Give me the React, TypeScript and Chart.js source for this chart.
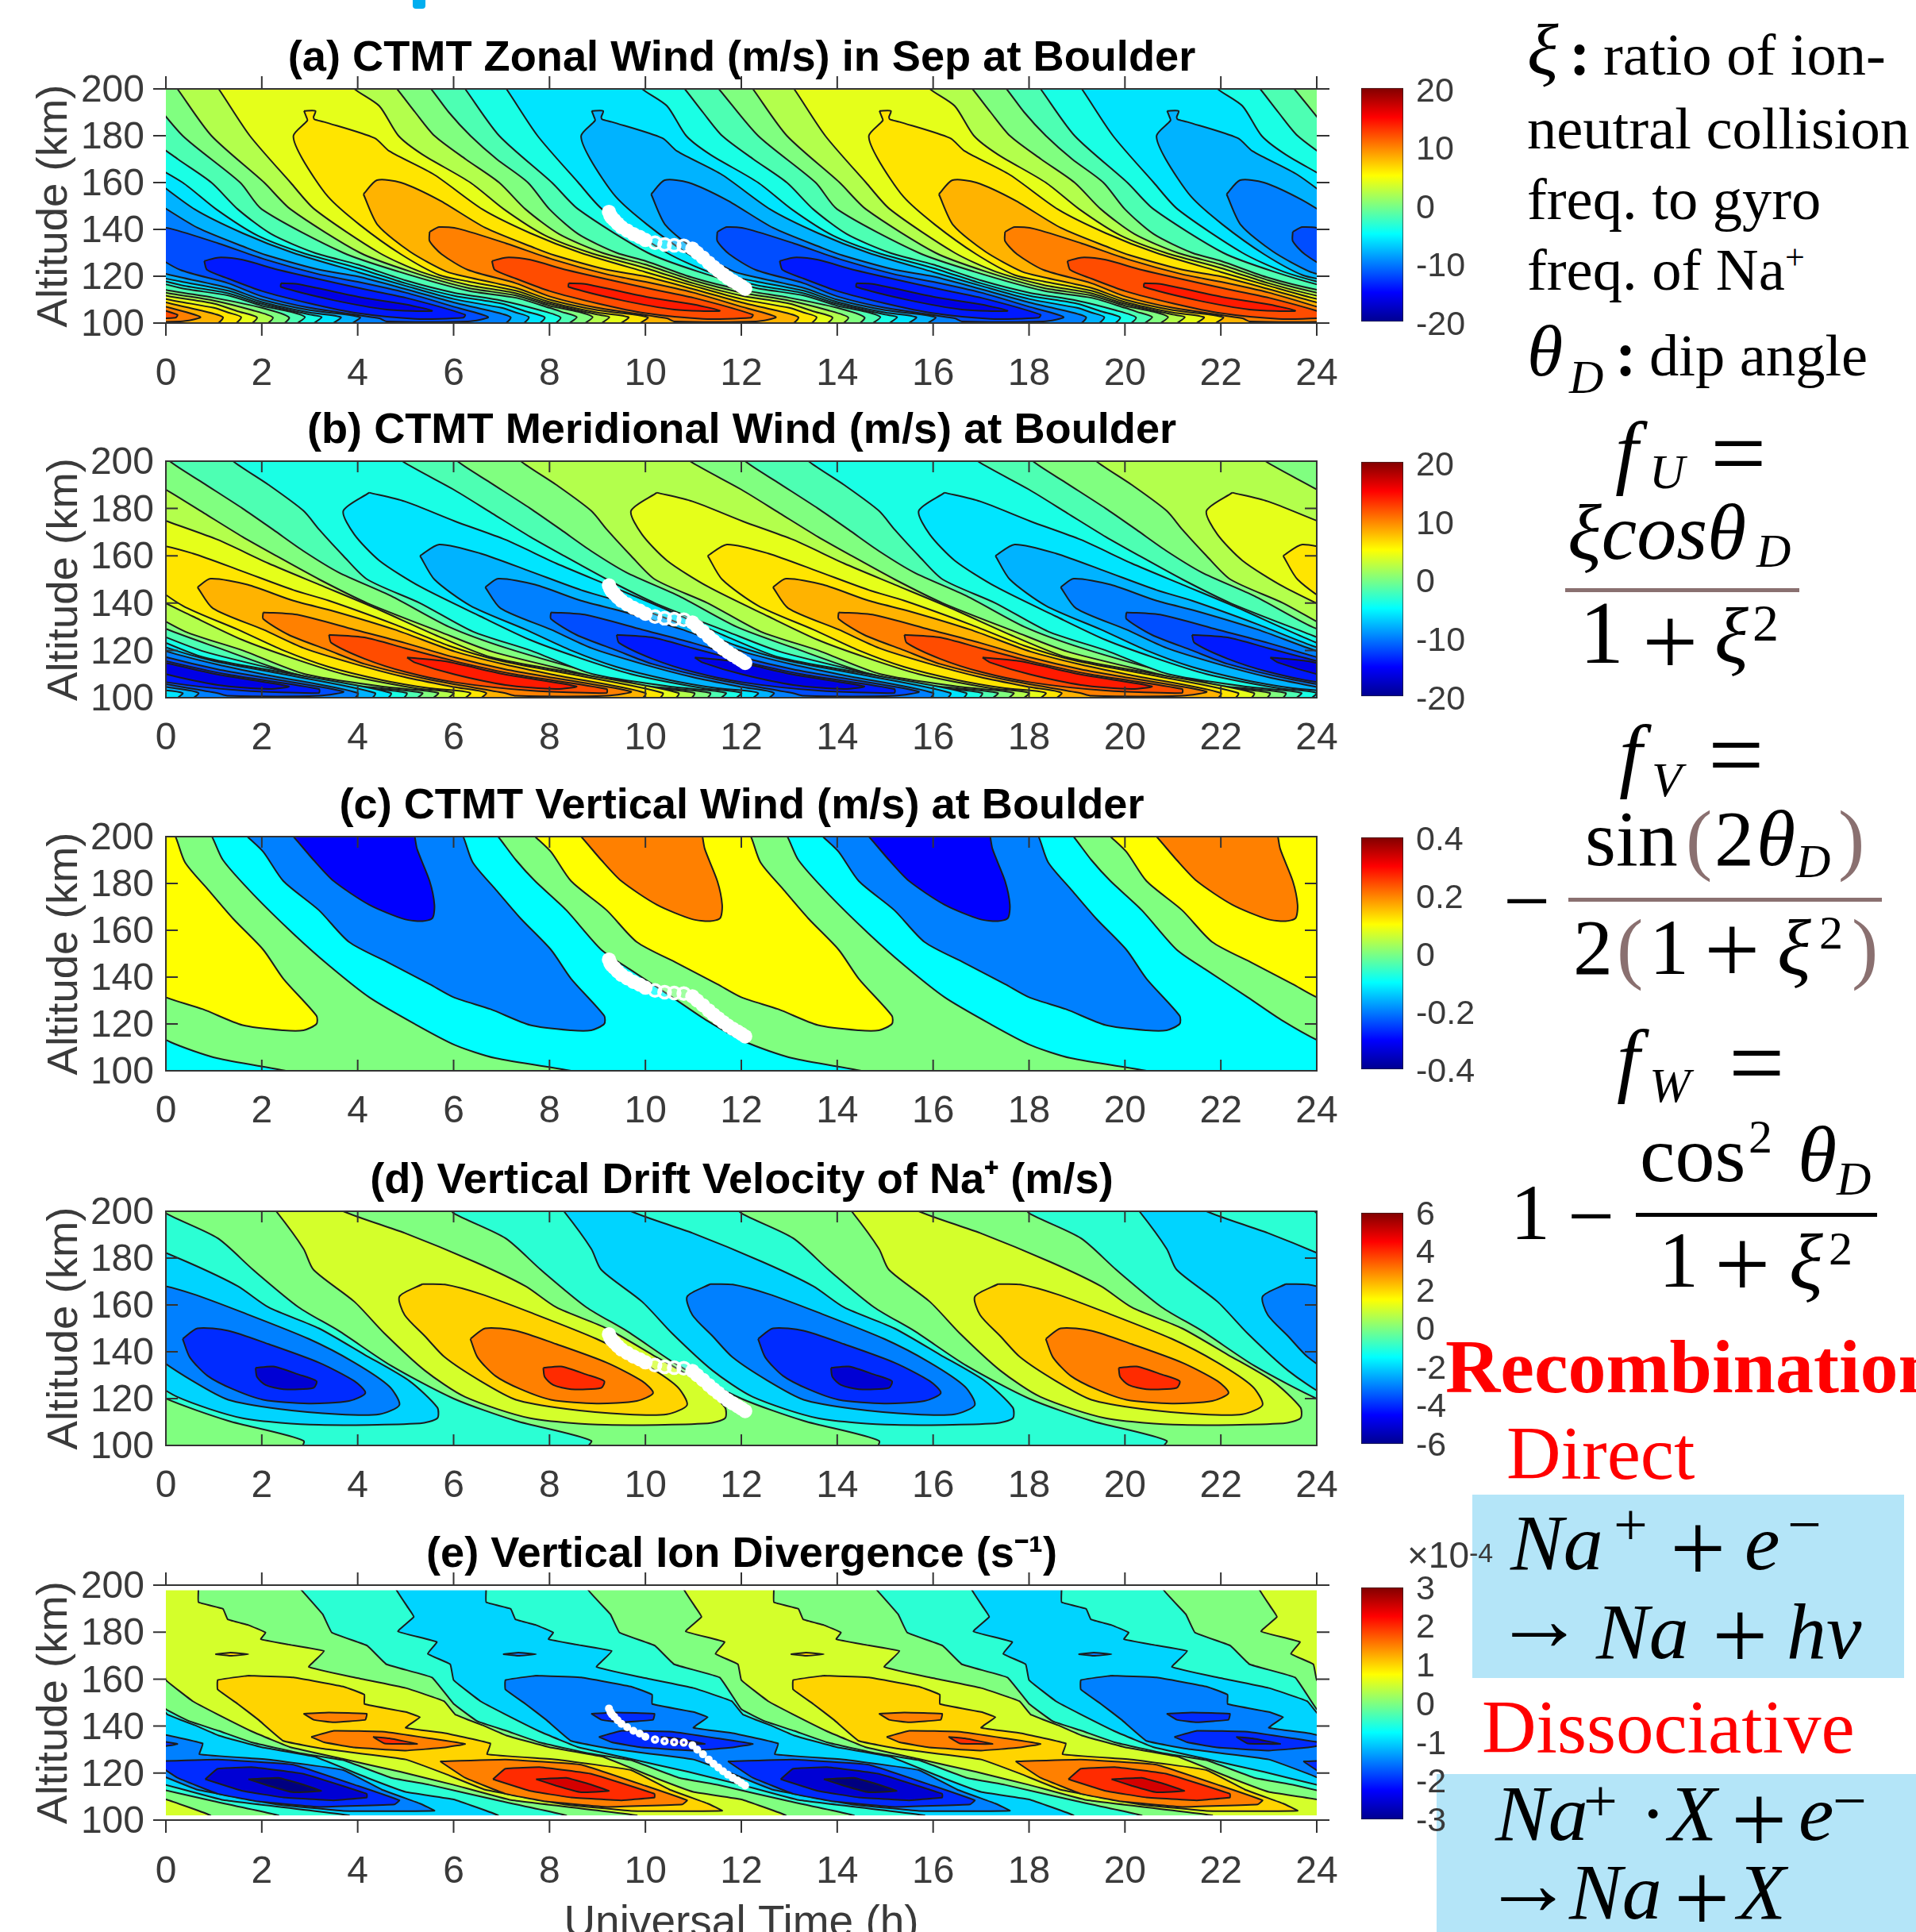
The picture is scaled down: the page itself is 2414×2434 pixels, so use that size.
import { useEffect, useRef } from 'react';
import Chart from 'chart.js/auto';

// ---------- shared axes ----------
const hourRange = [0, 24];
const altitudeRange = [100, 200];
const hourStep = 2;
const altitudeStep = 20;

// white marker trail (hour, km), drawn on every panel
const trailHours = [9.24,9.27,9.3,9.35,9.42,9.5,9.62,9.75,9.88,10,10.98,11.08,11.2,11.32,11.42,11.52,11.62,11.72,11.82,11.92,12,12.08];
const trailKm = [147.5,146,145,144,142.5,141,139.5,138,136.8,135.5,131.8,130,128,125.8,124,122.4,120.8,119.3,118,116.8,115.8,114.7];
const trailRingHours = [10.2,10.4,10.6,10.8];
const trailRingKm = [134.3,133.6,133.2,133];

// ---------- (a) zonal wind contours: one lobe, flat hour,km pairs ----------
const zonal0 = [5.3,205,5.53,200,5.9,190,6.35,180,6.9,170,7.55,160,8,148.6,8.6,138,9.4,130,10,126.5,11,119.3,12,114.2,13,110.8,14,106.5,14.57,102.4,14.37,99,8.37,99,8.57,102.5,8.25,104.8,8,106.5,7.3,110.8,6.3,113.8,4.85,122,3.7,130,2,148.6,1.55,160,.35,180,-.47,200,-.7,205];
const zonal2 = [4.6,205,4.82,200,5.2,190,5.6,180,6.25,170,6.95,160,7.5,148.6,8.2,138,9.1,130,10,125,11,118.2,12,113,13,109.6,13.8,105.5,14.23,102.4,14.03,99,8.7,99,8.9,102.5,8.6,104.8,8,107.4,7.3,111.8,6.3,115,5.1,122,4.05,130,2.6,148.6,2.05,160,.95,180,.24,200,.05,205];
const zonal4 = [3.75,205,3.93,200,4.45,192.7,4.85,180,5.35,172,6.35,160,7.05,148.6,7.9,137.5,8.85,130,10,123.5,11,117,12,111.7,13,108.3,13.5,105,13.9,102.4,13.7,99,9.05,99,9.25,102.5,9,103.6,8,108.2,7.3,112.7,6.3,116.3,5.3,122,4.45,130,3.1,148.6,2.6,160,1.75,180,1.1,200,.9,205];
const zonal6 = [2.88,190.6,3.12,190.6,3.08,188,3.1,187,3.3,185.9,4.35,179,4.66,173.4,5.6,163.3,6.6,148.6,7.6,138.4,8.65,130,10,121.8,11,115.9,12,110.3,13,106.5,13.3,104.5,13.57,102.5,13.37,99,9.45,99,9.65,102.5,9,104.5,8,109,7.3,113.8,6.3,117.8,5.7,120.5,4.9,129.4,4.04,142,3.38,154,2.85,170,2.66,180,2.95,186.5,2.93,188];
const zonal8 = [4.12,155,4.4,161,4.9,160,5.7,152.5,6.66,140.7,7.7,132,8.1,129,9.2,122.8,10,119.9,11,114.5,12,108.8,12.7,105.5,13.19,102.5,13,99,9.85,99,10.05,102.5,9,105.5,8,110,7.3,115,6.3,119.6,5.85,122,5.09,130.5,4.42,141.8];
const zonal10 = [5.5,139,5.7,141,6.1,140.3,7.1,134,8.1,127,9.2,120.8,10,117.6,11,113,12,107,12.72,102.6,12.3,100.7,10.6,100.7,10.45,102,9,106.5,8,111.4,7.3,117,6.3,122.7,5.75,129.4,5.5,135];
const zonal12 = [6.8,126.5,7.1,128,7.6,127,8.35,122.7,10.06,114.8,11,110.8,12.24,103.6,12.2,102.3,11.2,101.8,10,104.2,9,108.4,8,113.7,7.3,119,6.86,122.7];
const zonal14 = [8.4,117,8.74,116.7,10.06,111,11,108,11.55,105.2,10.6,105.8,9.51,109.7,8.4,115.4];

// ---------- (b) meridional wind contours ----------
const merid0 = [-.1,205,.08,200,.76,191,1.6,180,2.24,171,2.87,162,3.6,153,4.7,143,5.9,130,7.1,121,8.9,110.5,10,105,11.35,102,11.15,98,5.15,98,5.35,102,4,105,2.6,110.5,1.1,121,-.1,130,-1.3,143,-2.4,153,-3.13,162,-3.76,171,-4.4,180,-5.24,191,-5.92,200,-6.1,205];
const merid2 = [-1.3,205,-1.07,200,0,188,.8,178,1.6,168,2.3,160,3.2,150,4.2,140,5.7,128,6.8,119.5,8.7,110,9.8,104.8,11.02,102,10.82,98,5.48,98,5.68,102,4.6,104.5,2.9,110,1.6,120,.4,128,-.7,140,-1.8,150,-2.3,160,-2.8,171,-3.13,179,-3.86,190,-4.6,200,-4.8,205];
const merid4 = [-1.76,186.7,-1.02,183,.03,174.6,1.08,166.8,2.14,156.8,3.2,147.8,4.3,138.5,5.7,125.8,6.8,117,8.5,110.5,10.69,102,10.49,98,5.8,98,6,102,5.2,104,3.7,110,2.6,117,1.6,124.4,.56,134.4,-.7,147,-1.55,158,-2.07,169,-2.3,179];
const merid6 = [-.7,160,-.3,164.8,.56,161,1.6,153.4,2.66,145.5,3.4,141,4.77,131,5.9,122,7,115.5,8.35,110.3,10.36,102,10.16,98,6.15,98,6.35,102,5.5,104,4.5,107.5,3.4,113,2.45,120,1.5,128.8,.35,138.9,-.4,150];
const merid8 = [.66,146.7,.93,150.3,1.7,147.8,2.66,141,3.5,136.6,4.77,128.8,6.03,119.5,7.08,114,8.14,109.5,10,102,9.8,98,6.48,98,6.68,102,6,104.5,4.98,108.7,3.93,114.3,2.87,121,2.03,128.8,.98,137.8];
const merid10 = [2.03,136.1,2.77,135,3.93,128.8,4.98,123.2,6.03,117,7.08,112,8.14,108.2,9.7,102.6,9.2,100.8,7.3,100.8,7.06,102,5.5,107.6,4.14,114.3,3.4,120,2.56,126.6,2.03,133.3];
const merid12 = [3.4,126.6,4.14,125.5,4.98,121,6.03,115.4,7.3,109.8,9.19,103.7,9.19,102,7.6,103,6.03,106.5,4.98,111,4.14,116.5,3.45,123.2];
const merid14 = [5.03,117,5.82,115.4,7.08,109.8,8.56,104.8,8.14,103.7,7.08,105.4,6.03,109.8,5.19,114.9];

// ---------- (c) vertical wind contours ----------
const vert0 = [6.75,204,6.93,200,7.3,190,7.7,181,8.35,168.6,9.08,151.7,9.7,143,10.56,131.4,11.3,121.2,12.1,112.2,13.06,105.4,14.5,100,14.8,98,20.8,98,20.45,100,18.87,105.4,18.03,111,17.19,120,16.24,131.4,15.4,145,14.66,158.5,13.82,175.4,13.19,190,12.96,200,12.8,204];
const vert1 = [7.5,204,7.7,200,8.03,193.5,8.45,181,9.19,168.6,9.82,155,10.66,146,11.5,137,12,131.4,12.77,126.3,13.6,119.5,14.45,117.3,14.87,117.3,15.14,120,15.14,123.5,14.45,139.3,14.03,151.7,13.4,165,12.87,177.6,12.4,189,12.2,200,12.05,204];
const vert2 = [8.5,203,8.66,200,9.08,190,9.5,181,10.24,170.9,10.98,164.7,11.35,163.9,11.56,165.2,11.6,170.9,11.5,181,11.24,194.6,11.19,200,11.15,203];

// ---------- (d) drift velocity contours ----------
const drift0 = [-.2,204,0,199.2,1.08,188.5,1.82,175,2.77,159,3.6,149,4.7,134,6,120,7.3,110.5,8.87,102,8.7,97,14.7,97,14.87,102,13.3,110.5,12,120,10.7,134,9.6,149,8.77,159,7.82,175,7.08,188.5,6,199.2,5.8,204];
const drift1 = [2.1,204,2.3,200,2.87,184,3.08,175,3.93,161.4,4.56,147.8,5.4,132,6.24,120.7,7.6,111.6,9.19,108.8,11.3,109.4,11.66,111.6,11.66,116.2,11.08,127.5,10.14,138.8,9.19,150,8.14,159,7.5,168,6.45,178.3,4.98,190.7,3.7,200,3.5,204];
const drift2 = [5.35,168.9,5.82,168.7,6.56,164.7,7.6,156.8,8.98,145.5,9.93,135.4,10.66,125.2,10.87,117.3,10.45,113.3,9.6,113.3,8.35,115.6,7.3,119.5,6.56,127.5,5.82,137.6,5.4,146.7,4.98,155.7,4.87,163.6];
const drift3 = [6.35,145.5,6.66,150,7.3,149,8.14,143.3,9.19,135.4,9.93,127.5,10.16,122.4,9.82,119,8.98,117.9,8.03,119.5,7.4,124,6.87,129.7,6.5,137.6];
const drift4 = [7.87,133.1,8.24,133.7,8.77,130.3,9.14,127.5,9.08,124.6,8.45,124,8.08,125.8,7.9,129.2];

// ---------- (e) ion divergence contours ----------
const div0 = [2.78,199,3.27,187.6,3.46,179.8,4.2,174.2,4.6,166.3,5.55,160.7,6,149.5,6.5,142,7.1,138,7.8,133,8.8,128.5,9.7,125.5,10.7,118,11.5,115,13,108,14.35,102,14.2,99,8.2,99,8.35,102,7,108,5.5,115,4.7,118,3.7,125.5,2.8,128.5,1.8,133,1.1,138,.5,142,0,147.2,-.45,160.7,-1.4,166.3,-1.8,174.2,-2.54,179.8,-2.73,187.6,-3.22,199];
const div05 = [.68,199,.68,192.7,1.19,189.9,1.29,185.4,1.72,183,2.08,179.8,1.98,177,2.56,174.7,3.3,171.9,2.98,165.2,3.93,160.7,5,156.2,5.8,150.6,6.03,145,6.6,140.4,7.1,136,8,131,9.1,127,10.2,118,11,112,12,108.8,12.93,102,12.8,99,9.7,99,9.82,102,7.2,108.5,6,115,4.9,120.5,3.7,126,2.6,131,1.82,137.5,1.08,145,.56,150.6,0,159.6,-.07,166.3,-.54,170.8,-.35,175.8,-1.16,180.3,-.83,186.5,-.97,191,-1.21,199];
const div1 = [1.72,161.5,2.66,160.7,3.72,156.7,4.14,153.4,4.14,149.4,5,146,5.3,143.8,5,139.3,5.82,137,6.77,132.6,6.7,128,8.14,125.8,9.7,121.3,10.5,113,11.3,107,11.6,104,9.7,103.9,8.3,106.7,6.66,112.9,5.82,119.7,5,125.8,3.3,130.3,2.45,133.7,1.93,142.7,1.5,149.4,1.08,155.6,1.08,159.6];
const div1Islet = [1.03,170.6,1.35,171.3,1.72,170.6,1.35,169.9];
const div15 = [5.72,125,7.08,125.8,8.66,123.6,10,114.6,10.87,108.4,10.77,106.7,9.2,105.6,7.93,107.9,7.08,111.2,6.24,118];
const div15Upper = [2.87,145.3,3.4,145.8,4.19,145.3,4.16,142.7,3.5,141.6,3.08,142.7];
const div15Middle = [3.03,135.4,3.5,138,4.56,137.6,5.5,134.8,6.24,132.4,5.82,130.9,5,129.6,3.93,130.9,3.3,133.1];
const div2 = [6.82,117.4,7.08,121.9,7.82,122.5,8.87,119.7,10.19,111.2,10.19,109.6,9.5,108.4,8.45,109.6,7.6,112.4];
const div2Islet = [4.32,135.4,4.66,134.8,5.24,132.4,4.56,132.6];
const div25 = [7.72,117.4,8.35,118,8.77,115.7,9.24,112.4,8.66,111.8,8.14,114.6];

// ---------- colour bars ----------
const zonalBarTicks = [-20,-10,0,10,20];
const meridBarTicks = [-20,-10,0,10,20];
const vertBarTicks = [-0.4,-0.2,0,0.2,0.4];
const driftBarTicks = [-6,-4,-2,0,2,4,6];
const divBarTicks = [-3,-2,-1,0,1,2,3];

const jetStops: [number, string][] = [[0,'#00008f'],[.125,'#0000ff'],[.375,'#00ffff'],[.625,'#ffff00'],[.875,'#ff0000'],[1,'#800000']];

function jet(v: number) {
  const t = (v + 20) / 40;
  const c = (a: number) => Math.round(255 * Math.max(0, Math.min(1, a)));
  return `rgb(${c(Math.min(4*t-1.5,-4*t+4.5))},${c(Math.min(4*t-.5,-4*t+3.5))},${c(Math.min(4*t+.5,-4*t+2.5))})`;
}

const FONT = '"Liberation Sans", Arial, sans-serif';
const TICK = '#3a3a3a';

type Layer = { poly: number[]; pos: number; neg: number | null };
type Panel = {
  title: string; top: number; bottom: number; out: boolean; yTitlePad: number; yPad: number; xPad: number;
  base: number; layers: Layer[]; posShift: number[]; negShift: number[]; tension: number; markR: number;
  xLabel?: string; blank?: [number, number];
  bar: { top: number; bottom: number; min: number; max: number; ticks: number[]; offset: number };
};

const panels: Panel[] = [
  { title: '(a) CTMT Zonal Wind (m/s) in Sep at Boulder', top: 112, bottom: 407, out: true, yTitlePad: 36, yPad: 27, xPad: 36,
    base: -2, posShift: [-12,0,12,24], negShift: [-6,6,18], tension: .25, markR: 9,
    layers: [
      {poly: zonal0, pos: 0, neg: null}, {poly: zonal2, pos: 2, neg: -4}, {poly: zonal4, pos: 4, neg: -6}, {poly: zonal6, pos: 6, neg: -8},
      {poly: zonal8, pos: 8, neg: -10}, {poly: zonal10, pos: 10, neg: -12}, {poly: zonal12, pos: 12, neg: -14}, {poly: zonal14, pos: 14, neg: -16},
    ],
    bar: { top: 108.5, bottom: 407, min: -20, max: 20, ticks: zonalBarTicks, offset: 5 } },
  { title: '(b) CTMT Meridional Wind (m/s) at Boulder', top: 581, bottom: 879, out: false, yTitlePad: 49, yPad: 15, xPad: 23,
    base: -2, posShift: [0,12,24], negShift: [-6,6,18], tension: .25, markR: 9,
    layers: [
      {poly: merid0, pos: 0, neg: null}, {poly: merid2, pos: 2, neg: -4}, {poly: merid4, pos: 4, neg: -6}, {poly: merid6, pos: 6, neg: -8},
      {poly: merid8, pos: 8, neg: -10}, {poly: merid10, pos: 10, neg: -12}, {poly: merid12, pos: 12, neg: -14}, {poly: merid14, pos: 14, neg: -16},
    ],
    bar: { top: 580, bottom: 879, min: -20, max: 20, ticks: meridBarTicks, offset: 5 } },
  { title: '(c) CTMT Vertical Wind (m/s) at Boulder', top: 1054, bottom: 1349, out: false, yTitlePad: 49, yPad: 15, xPad: 23,
    base: -5, posShift: [-12,0,12], negShift: [-18,-6,6], tension: .25, markR: 9,
    layers: [ {poly: vert0, pos: 0, neg: null}, {poly: vert1, pos: 5, neg: -10}, {poly: vert2, pos: 10, neg: -15} ],
    bar: { top: 1053, bottom: 1349, min: -0.4, max: 0.4, ticks: vertBarTicks, offset: 4 } },
  { title: '(d) Vertical Drift Velocity of Na\u207A (m/s)', top: 1526, bottom: 1821, out: false, yTitlePad: 49, yPad: 15, xPad: 23,
    base: -3.33, posShift: [-12,0,12,24], negShift: [-6,6,18], tension: .25, markR: 9,
    layers: [
      {poly: drift0, pos: 0, neg: null}, {poly: drift1, pos: 3.33, neg: -6.67}, {poly: drift2, pos: 6.67, neg: -10},
      {poly: drift3, pos: 10, neg: -13.33}, {poly: drift4, pos: 13.33, neg: -16.67},
    ],
    bar: { top: 1526, bottom: 1821, min: -6, max: 6, ticks: driftBarTicks, offset: 3 } },
  { title: '(e) Vertical Ion Divergence (s\u207B\u00B9)', top: 1997, bottom: 2293, out: true, yTitlePad: 36, yPad: 27, xPad: 37,
    base: -3.33, posShift: [-12,0,12,24], negShift: [-6,6,18], tension: .08, markR: 5, xLabel: 'Universal Time (h)', blank: [197.8, 102],
    layers: [
      {poly: div0, pos: 0, neg: null}, {poly: div05, pos: 3.33, neg: -6.67}, {poly: div1, pos: 6.67, neg: -10}, {poly: div1Islet, pos: 6.67, neg: -10},
      {poly: div15, pos: 10, neg: -13.33}, {poly: div15Upper, pos: 10, neg: -13.33}, {poly: div15Middle, pos: 10, neg: -13.33},
      {poly: div2, pos: 13.33, neg: -16.67}, {poly: div2Islet, pos: 13.33, neg: -16.67}, {poly: div25, pos: 16.67, neg: -20},
    ],
    bar: { top: 1998, bottom: 2294, min: -3, max: 3, ticks: divBarTicks, offset: 3 } },
];

// ---------- right-hand notes: text, x, baseline, size, flags (i italic, b bold, r red, t brown) ----------
const notes: [string, number, number, number, string?][] = [
  ['ξ',1924,94,92,'i'],[':',1977,94,80,'b'],['ratio of ion-',2020,94,74.5],
  ['neutral collision',1924,187,74.5],['freq. to gyro',1924,276,74.5],['freq. of Na',1924,365,74.5],['+',2249,340,44],
  ['θ',1924,473,92,'i'],['D',1977,495,60,'i'],[':',2035,473,80,'b'],['dip angle',2078,473,74.5],
  ['f',2035,603,104,'i'],['U',2078,615,62,'i'],['=',2155,614,125],
  ['ξcosθ',1975,705,100,'i'],['D',2213,714,60,'i'],
  ['1',1990,835,112],['+',2069,851,125],['ξ',2160,835,100,'i'],['2',2208,807,66],
  ['f',2040,985,104,'i'],['V',2081,1003,62,'i'],['=',2152,994,125],
  ['sin',1997,1091,100],['(',2124,1091,100,'t'],['2',2160,1091,100],['θ',2213,1091,100,'i'],['D',2263,1105,60,'i'],[')',2316,1091,100,'t'],
  ['−',1894,1170,105],
  ['2',1982,1228,100],['(',2037,1228,100,'t'],['1',2078,1228,100],['+',2147,1239,125],['ξ',2239,1228,100,'i'],['2',2292,1195,60],[')',2333,1228,100,'t'],
  ['f',2037,1369,104,'i'],['W',2078,1388,62,'i'],['=',2178,1382,125],
  ['cos',2066,1489,100],['2',2203,1452,60],['θ',2265,1489,100,'i'],['D',2314,1505,60,'i'],
  ['1',1903,1562,100],['−',1975,1567,105],
  ['1',2090,1622,100],['+',2160,1635,125],['ξ',2254,1624,100,'i'],['2',2304,1593,60],
  ['Recombination',1821,1754,96,'br'],['Direct',1898,1864,95,'r'],
  ['Na',1903,1978,100,'i'],['+',2033,1946,76],['+',2104,1993,125],['e',2198,1978,100,'i'],['−',2252,1946,76],
  ['→',1882,2079,115],['Na',2011,2090,100,'i'],['+',2157,2103,125],['hv',2251,2090,100,'i'],
  ['Dissociative',1867,2209,95,'r'],
  ['Na',1884,2319,100,'i'],['+',1995,2294,76],['·',2066,2319,100],['X',2102,2319,100,'i'],['+',2181,2335,125],['e',2266,2319,100,'i'],['−',2309,2294,76],
  ['→',1868,2412,115],['Na',1977,2418,100,'i'],['+',2109,2434,125],['X',2189,2418,100,'i'],
];
const rules: [number, number, number, string][] = [[1972,2267,743,'#8a7070'],[1976,2371,1133,'#8a7070'],[2061,2365,1530,'#000']];
const boxes: [number, number, number, number][] = [[1855,1883,544,231],[1810,2235,604,199]];

function polygon(flat: number[], dx: number) {
  const pts: { x: number; y: number }[] = [];
  for (let i = 0; i < flat.length; i += 2) pts.push({ x: flat[i] + dx, y: flat[i + 1] });
  pts.push(pts[0]);
  return pts;
}

const TITLE_SIZE = 54.2;
const TITLE_TOP = 29.3;
const CANVAS_W = 1869;

function ContourPanel({ p }: { p: Panel }) {
  const ref = useRef<HTMLCanvasElement>(null);
  const plotH = p.bottom - p.top;
  const belowH = p.xLabel ? 2434 - p.bottom + 40 : 110;
  useEffect(() => {
    const paint: any[] = [];
    const ds = (data: any[], c: number) => ({
      type: 'scatter', data, showLine: true, fill: 'shape', backgroundColor: jet(c), borderColor: '#1c1c1c', borderWidth: 2,
      pointRadius: 0, tension: p.tension,
    });
    for (const l of p.layers) {
      for (const s of p.posShift) paint.push(ds(polygon(l.poly, s), l.pos));
      if (l.neg !== null) for (const s of p.negShift) paint.push(ds(polygon(l.poly, s), l.neg));
    }
    const trail = trailHours.map((x, i) => ({ x, y: trailKm[i] }));
    const rings = trailRingHours.map((x, i) => ({ x, y: trailRingKm[i] }));
    const datasets = [
      { type: 'scatter', data: trail, showLine: false, pointRadius: p.markR, pointBackgroundColor: '#fff', pointBorderColor: '#fff', pointBorderWidth: 0 },
      { type: 'scatter', data: rings, showLine: false, pointRadius: p.markR - 1.5, pointBackgroundColor: 'rgba(255,255,255,0.25)', pointBorderColor: '#fff', pointBorderWidth: 3.5 },
      ...paint.reverse(),
    ];
    const frame = {
      id: 'frame',
      beforeDatasetsDraw(c: any) {
        const a = c.chartArea;
        c.ctx.save();
        c.ctx.fillStyle = jet(p.base);
        c.ctx.fillRect(a.left, a.top, a.right - a.left, a.bottom - a.top);
        c.ctx.restore();
      },
      afterDraw(c: any) {
        const { ctx, chartArea: a, scales } = c;
        ctx.save();
        if (p.blank) {
          ctx.fillStyle = '#fff';
          const y1 = scales.y.getPixelForValue(p.blank[0]);
          const y2 = scales.y.getPixelForValue(p.blank[1]);
          ctx.fillRect(a.left, a.top, a.right - a.left, y1 - a.top);
          ctx.fillRect(a.left, y2, a.right - a.left, a.bottom - y2);
        }
        ctx.strokeStyle = '#333';
        ctx.lineWidth = 2;
        if (p.out) {
          ctx.beginPath();
          ctx.moveTo(a.left, a.top); ctx.lineTo(a.right, a.top);
          ctx.moveTo(a.left, a.bottom); ctx.lineTo(a.right, a.bottom);
          ctx.stroke();
        } else {
          ctx.strokeRect(a.left, a.top, a.right - a.left, a.bottom - a.top);
        }
        const xl = p.out ? 16 : -14;
        const yl = p.out ? 16 : -15;
        ctx.beginPath();
        for (const t of scales.x.ticks) {
          const x = scales.x.getPixelForValue(t.value);
          ctx.moveTo(x, a.top); ctx.lineTo(x, a.top - xl);
          ctx.moveTo(x, a.bottom); ctx.lineTo(x, a.bottom + xl);
        }
        for (const t of scales.y.ticks) {
          const y = scales.y.getPixelForValue(t.value);
          ctx.moveTo(a.left, y); ctx.lineTo(a.left - yl, y);
          ctx.moveTo(a.right, y); ctx.lineTo(a.right + yl, y);
        }
        ctx.stroke();
        ctx.restore();
      },
    };
    const chart = new Chart(ref.current!, {
      type: 'scatter',
      data: { datasets: datasets as any },
      plugins: [frame],
      options: {
        animation: false, responsive: false, events: [],
        elements: { line: { capBezierPoints: false } },
        layout: { padding: 0 },
        plugins: {
          legend: { display: false }, tooltip: { enabled: false },
          title: { display: true, text: p.title, color: '#000', font: { family: FONT, size: TITLE_SIZE, weight: 'bold', lineHeight: 1.2 }, padding: { top: TITLE_TOP, bottom: 100 - TITLE_TOP - TITLE_SIZE * 1.2 } },
        },
        scales: {
          x: {
            type: 'linear', min: hourRange[0], max: hourRange[1], grid: { display: false, drawTicks: false }, border: { display: false },
            ticks: { stepSize: hourStep, autoSkip: false, maxRotation: 0, padding: p.xPad, color: TICK, font: { family: FONT, size: 48 } },
            afterFit: (s: any) => { s.height = belowH; },
            title: p.xLabel ? { display: true, text: p.xLabel, color: TICK, font: { family: FONT, size: 55 }, padding: { top: 0, bottom: 17 } } : { display: false },
          },
          y: {
            type: 'linear', min: altitudeRange[0], max: altitudeRange[1], grid: { display: false, drawTicks: false }, border: { display: false },
            ticks: { stepSize: altitudeStep, autoSkip: false, padding: p.yPad, labelOffset: 3, color: TICK, font: { family: FONT, size: 48 } },
            afterFit: (s: any) => { s.width = 209; },
            title: { display: true, text: 'Altitude (km)', color: TICK, font: { family: FONT, size: 54.5 }, padding: { top: p.yTitlePad, bottom: 0 } },
          },
          // empty right-hand axis: balances the left one so the title centres over the plot
          yRight: {
            type: 'linear', position: 'right', min: altitudeRange[0], max: altitudeRange[1], grid: { display: false, drawTicks: false }, border: { display: false },
            ticks: { display: false },
            afterFit: (s: any) => { s.width = CANVAS_W - 1659; },
          },
        },
      } as any,
    });
    return () => chart.destroy();
  }, [p]);
  return <canvas ref={ref} width={CANVAS_W} height={100 + plotH + belowH} style={{ position: 'absolute', left: 0, top: p.top - 100, width: CANVAS_W, height: 100 + plotH + belowH }} />;
}

function ColourBar({ p }: { p: Panel }) {
  const ref = useRef<HTMLCanvasElement>(null);
  const b = p.bar;
  useEffect(() => {
    const chart = new Chart(ref.current!, {
      type: 'bar',
      data: {
        labels: ['bar'],
        datasets: [{
          data: [[b.min, b.max]] as any, barPercentage: 1, categoryPercentage: 1, borderWidth: 1, borderColor: '#222', borderSkipped: false,
          backgroundColor: (ctx: any) => {
            const area = ctx.chart.chartArea;
            if (!area) return '#888';
            const g = ctx.chart.ctx.createLinearGradient(0, area.bottom, 0, area.top);
            for (const [o, col] of jetStops) g.addColorStop(o, col);
            return g;
          },
        }],
      },
      options: {
        animation: false, responsive: false, events: [],
        layout: { padding: { left: 15, right: 0, top: 40, bottom: 40 } },
        plugins: { legend: { display: false }, tooltip: { enabled: false } },
        scales: {
          x: { display: false },
          y: {
            position: 'right', min: b.min, max: b.max, grid: { display: false, drawTicks: false }, border: { display: false },
            afterBuildTicks: (s: any) => { s.ticks = b.ticks.map((value) => ({ value })); },
            ticks: { autoSkip: false, padding: 16, labelOffset: b.offset, color: TICK, font: { family: FONT, size: 43 } },
            afterFit: (s: any) => { s.width = 132; },
          },
        },
      } as any,
    });
    return () => chart.destroy();
  }, [p]);
  const h = b.bottom - b.top + 80;
  return <canvas ref={ref} width={200} height={h} style={{ position: 'absolute', left: 1700, top: b.top - 40, width: 200, height: h }} />;
}

export default function App() {
  return (
    <div style={{ position: 'absolute', left: 0, top: 0, width: 2414, height: 2434, overflow: 'hidden', background: '#fff' }}>
      <div style={{ position: 'absolute', left: 520, top: 0, width: 16, height: 11, background: '#00aeef', borderRadius: '0 0 4px 4px' }} />
      {boxes.map(([x, y, w, h], i) => (
        <div key={i} style={{ position: 'absolute', left: x, top: y, width: w, height: h, background: '#b4e5f8' }} />
      ))}
      {panels.map((p) => <ContourPanel key={p.title} p={p} />)}
      {panels.map((p) => <ColourBar key={p.title} p={p} />)}
      <div style={{ position: 'absolute', left: 1773, top: 1934, fontFamily: FONT, fontSize: 46, lineHeight: '50px', color: TICK, whiteSpace: 'nowrap' }}>
        ×10<sup style={{ fontSize: 34, position: 'relative', top: -7, verticalAlign: 'baseline' }}>-4</sup>
      </div>
      {rules.map(([x1, x2, y, c], i) => (
        <div key={i} style={{ position: 'absolute', left: x1, top: y - 2.5, width: x2 - x1, height: 5, background: c }} />
      ))}
      {notes.map(([t, x, base, size, flags = ''], i) => (
        <span key={i} style={{
          position: 'absolute', left: x, top: base - 0.8375 * size, fontSize: size, lineHeight: 1, whiteSpace: 'nowrap',
          fontFamily: '"Liberation Serif", serif', fontStyle: flags.includes('i') ? 'italic' : 'normal', fontWeight: flags.includes('b') ? 'bold' : 'normal',
          color: flags.includes('r') ? '#ff0000' : flags.includes('t') ? '#8a7070' : '#000',
        }}>{t}</span>
      ))}
    </div>
  );
}
